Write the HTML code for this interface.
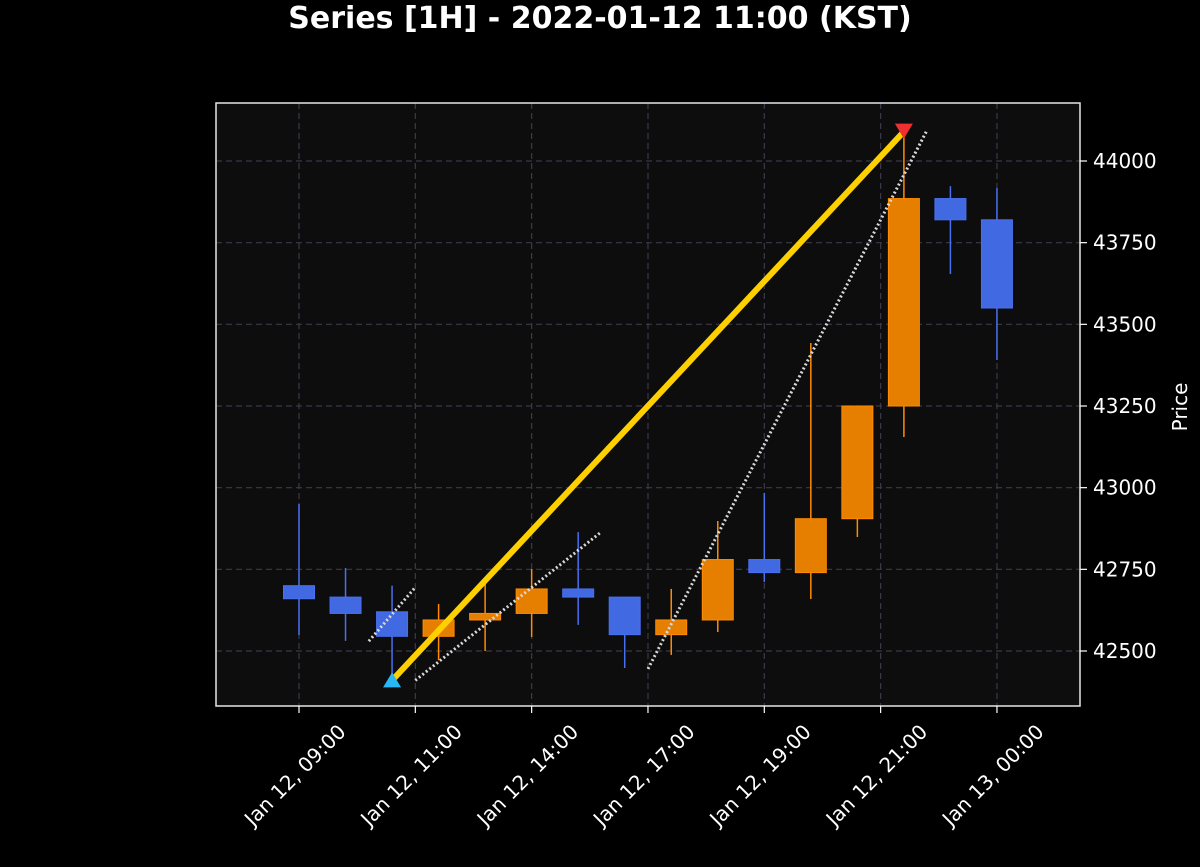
<!DOCTYPE html>
<html><head><meta charset="utf-8"><style>
html,body{margin:0;padding:0;background:#000;}
svg text{font-family:"DejaVu Sans","Liberation Sans",sans-serif;fill:#fff;}
</style></head><body>
<svg width="1200" height="862" xmlns="http://www.w3.org/2000/svg">
<rect width="1200" height="862" fill="#000"/>
<text x="600" y="28" font-size="30" font-weight="bold" text-anchor="middle">Series [1H] - 2022-01-12 11:00 (KST)</text>
<rect x="216" y="103" width="864" height="603" fill="#0d0d0d"/>
<g id="grid"></g>
<g id="marks"></g>
<rect x="216" y="103" width="864" height="603" fill="none" stroke="#e6e6e6" stroke-width="1.5"/>
<g id="axes"></g>
<text transform="translate(1187,407) rotate(-90)" font-size="20" text-anchor="middle">Price</text>
</svg>
<script>
const opens  = [42700,42665,42620,42545,42595,42615,42690,42665,42550,42595,42780,42740,42905,43250,43885,43820];
const closes = [42660,42615,42545,42595,42615,42690,42665,42550,42595,42780,42740,42905,43250,43885,43820,43550];
const highs  = [42950,42754,42700,42644,42717,42751,42864,42665,42690,42898,42984,43443,43250,44092,43923,43917];
const lows   = [42549,42531,42420,42472,42500,42543,42580,42448,42488,42558,42711,42659,42849,43155,43654,43391];
const yTicks = [42500,42750,43000,43250,43500,43750,44000];
const xTickPos = [0,2.5,5,7.5,10,12.5,15];
const xTickLabels = ["Jan 12, 09:00","Jan 12, 11:00","Jan 12, 14:00","Jan 12, 17:00","Jan 12, 19:00","Jan 12, 21:00","Jan 13, 00:00"];
const trendStart = [2, 42410];
const trendEnd = [13, 44090];
const dotted1 = [[1.5,42530],[2.5,42695]];
const dotted2 = [[2.5,42410],[6.5,42865]];
const dotted3 = [[7.5,42445],[13.5,44095]];

const NS="http://www.w3.org/2000/svg";
const X=i=>299+i*46.53;
const Y=v=>651-(v-42500)*(490/1500);
function mk(tag,attrs,parent){const e=document.createElementNS(NS,tag);for(const k in attrs)e.setAttribute(k,attrs[k]);document.getElementById(parent).appendChild(e);return e;}
yTicks.forEach(v=>{
  const g=mk('line',{x1:216,x2:1080,y1:Y(v),y2:Y(v),stroke:'#3a3a4a','stroke-dasharray':'6,4','stroke-width':1.2},'grid');
  
  
  const t=mk('line',{x1:1080,x2:1087,y1:Y(v),y2:Y(v),stroke:'#fff','stroke-width':1.2},'axes');
  
  
  const l=mk('text',{x:1093,y:Y(v)+7,'font-size':20},'axes');l.textContent=v;
  
  
});
xTickPos.forEach((p,i)=>{
  const g=mk('line',{x1:X(p),x2:X(p),y1:103,y2:706,stroke:'#3a3a4a','stroke-dasharray':'6,4','stroke-width':1.2},'grid');
  
  
  const t=mk('line',{x1:X(p),x2:X(p),y1:706,y2:713,stroke:'#fff','stroke-width':1.2},'axes');
  
  
  const l=mk('text',{transform:`translate(${X(p)+48},733) rotate(-45)`,'font-size':20,'text-anchor':'end'},'axes');l.textContent=xTickLabels[i];
  
  
});
opens.forEach((o,i)=>{
  const c=closes[i],up=c>=o,col=up?'#e67e00':'#4169e1',x=X(i);
  const w=mk('line',{x1:x,x2:x,y1:Y(highs[i]),y2:Y(lows[i]),stroke:up?'#ff8c00':'#4a6ff0','stroke-width':1.5},'marks');
  
  
  const b=mk('rect',{x:x-15.5,y:Y(Math.max(o,c)),width:31,height:Math.max(1,Y(Math.min(o,c))-Y(Math.max(o,c))),fill:col,stroke:up?'#ff8c00':'#4a6ff0','stroke-width':1},'marks');
  
  
});
[dotted1,dotted2,dotted3].forEach(d=>{
  const l=mk('line',{x1:X(d[0][0]),y1:Y(d[0][1]),x2:X(d[1][0]),y2:Y(d[1][1]),stroke:'#d8d8d8','stroke-width':3,'stroke-dasharray':'2,2.5'},'marks');
  
  
});
const tl=mk('line',{x1:X(trendStart[0]),y1:Y(trendStart[1]),x2:X(trendEnd[0]),y2:Y(trendEnd[1]),stroke:'#ffd000','stroke-width':6},'marks');


const sx=X(trendStart[0]),sy=Y(trendStart[1]);
const up=mk('polygon',{points:`${sx},${sy-8} ${sx-9},${sy+7} ${sx+9},${sy+7}`,fill:'#29b6f6'},'marks');


const ex=X(trendEnd[0]),ey=Y(trendEnd[1]);
const dn=mk('polygon',{points:`${ex-9},${ey-8} ${ex+9},${ey-8} ${ex},${ey+7}`,fill:'#f03030'},'marks');


</script>
</body></html>
